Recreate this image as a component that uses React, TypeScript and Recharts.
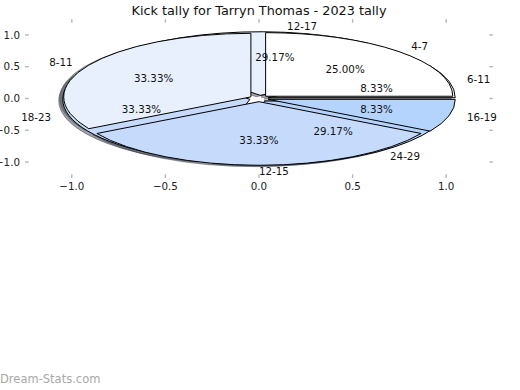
import { ComposedChart, XAxis, YAxis, PieChart, Pie, Cell } from "recharts";

const TITLE = "Kick tally for Tarryn Thomas - 2023 tally";
const WATERMARK = "Dream-Stats.com";

// first tally (six-year brackets), drawn underneath
const groupsA = ["6-11", "12-17", "18-23", "24-29"];
const kicksA = [2, 7, 8, 7];

// second tally (four-year brackets), drawn on top
const groupsB = ["4-7", "8-11", "12-15", "16-19"];
const kicksB = [6, 8, 8, 2];

const sliceColors = ["#ffffff", "#e8f0fe", "#c6dafc", "#b4d4fd"];
const axisTicks = [-1, -0.5, 0, 0.5, 1];

const dataA = groupsA.map((name, i) => ({ name, value: kicksA[i] }));
const dataB = groupsB.map((name, i) => ({ name, value: kicksB[i] }));
const tickRows = axisTicks.map((t) => ({ t }));

const W = 520;
const H = 390;
// axes are 1px thick (recharts skips 0-size axes), so the plot box is 25..493 x 19..178
const MARGIN = { top: 18, right: 26, bottom: 211, left: 24 };
const PLOT = { left: 25, top: 19, width: W - 25 - 27, height: H - 19 - 212 };
const LIM = 1.25;
const CX = PLOT.left + PLOT.width / 2;
const CY = PLOT.top + PLOT.height / 2;
const RX = PLOT.width / (2 * LIM);
const RY = PLOT.height / (2 * LIM);
const SQUASH = RY / RX;

const EXPLODE = 0.05;
const SHADOW = 0.0214;
const FONT = "DejaVu Sans";
const TICK_GREY = "#b8b8b8";
const RAD = Math.PI / 180;

function fmtTick(v: number) {
  return (v < 0 ? "\u2212" : "") + Math.abs(v).toFixed(1);
}

function ellipseWedge(cx: number, cy: number, rx: number, ry: number, a0: number, a1: number) {
  const x0 = cx + rx * Math.cos(a0 * RAD);
  const y0 = cy - ry * Math.sin(a0 * RAD);
  const x1 = cx + rx * Math.cos(a1 * RAD);
  const y1 = cy - ry * Math.sin(a1 * RAD);
  const large = Math.abs(a1 - a0) > 180 ? 1 : 0;
  return `M${cx},${cy}L${x0},${y0}A${rx},${ry} 0 ${large} 0 ${x1},${y1}Z`;
}

function shade(hex: string) {
  const n = parseInt(hex.slice(1), 16);
  const r = Math.round(((n >> 16) & 255) * 0.3);
  const g = Math.round(((n >> 8) & 255) * 0.3);
  const b = Math.round((n & 255) * 0.3);
  return `rgb(${r},${g},${b})`;
}

function wedgeGeometry(props: any) {
  const { cx, cy, outerRadius, startAngle, endAngle, midAngle } = props;
  const rx = outerRadius;
  const ry = outerRadius * SQUASH;
  const mid = midAngle ?? (startAngle + endAngle) / 2;
  const ox = cx + EXPLODE * rx * Math.cos(mid * RAD);
  const oy = cy - EXPLODE * ry * Math.sin(mid * RAD);
  return { ox, oy, rx, ry, startAngle, endAngle };
}

function wedgeShape(props: any) {
  const g = wedgeGeometry(props);
  return (
    <path
      d={ellipseWedge(g.ox, g.oy, g.rx, g.ry, g.startAngle, g.endAngle)}
      fill={props.fill}
      stroke="#000"
      strokeWidth={1}
      strokeLinejoin="round"
    />
  );
}

function shadowShape(props: any) {
  const g = wedgeGeometry(props);
  const c = shade(props.fill || "#ffffff");
  return (
    <path
      d={ellipseWedge(g.ox - SHADOW * g.rx, g.oy + SHADOW * g.ry, g.rx, g.ry, g.startAngle, g.endAngle)}
      fill={c}
      fillOpacity={0.5}
      stroke={c}
      strokeOpacity={0.5}
      strokeWidth={1}
    />
  );
}

function emptyShape() {
  return <g />;
}

function renderLabels(props: any) {
  const { cx, cy, outerRadius, midAngle, percent, name } = props;
  const rx = outerRadius;
  const ry = outerRadius * SQUASH;
  const c = Math.cos(midAngle * RAD);
  const s = Math.sin(midAngle * RAD);
  const nameX = cx + rx * (EXPLODE + 1.1) * c;
  const nameY = cy - ry * (EXPLODE + 1.1) * s;
  const pctX = cx + rx * (EXPLODE + 0.6) * c;
  const pctY = cy - ry * (EXPLODE + 0.6) * s;
  return (
    <g>
      <text
        x={nameX}
        y={nameY}
        dy="0.36em"
        textAnchor={c >= -1e-6 ? "start" : "end"}
        fontFamily={FONT}
        fontSize={10.3}
        fill="#111"
      >
        {name}
      </text>
      <text x={pctX} y={pctY} dy="0.36em" textAnchor="middle" fontFamily={FONT} fontSize={10.3} fill="#111">
        {(percent * 100).toFixed(2)}%
      </text>
    </g>
  );
}

function BottomTick({ x, y, payload }: any) {
  return (
    <g>
      <line x1={x} x2={x} y1={y} y2={y - 3.7} stroke={TICK_GREY} strokeWidth={1.4} />
      <text x={x} y={y + 12} textAnchor="middle" fontFamily={FONT} fontSize={10.3} fill="#222">
        {fmtTick(payload.value)}
      </text>
    </g>
  );
}

function TopTick({ x, y }: any) {
  return <line x1={x} x2={x} y1={y} y2={y + 3.7} stroke={TICK_GREY} strokeWidth={1.4} />;
}

function LeftTick({ x, y, payload }: any) {
  return (
    <g>
      <line x1={x} x2={x + 3.7} y1={y} y2={y} stroke={TICK_GREY} strokeWidth={1.4} />
      <text x={x - 5} y={y} dy="0.36em" textAnchor="end" fontFamily={FONT} fontSize={10.3} fill="#222">
        {fmtTick(payload.value)}
      </text>
    </g>
  );
}

function RightTick({ x, y }: any) {
  return <line x1={x} x2={x - 3.7} y1={y} y2={y} stroke={TICK_GREY} strokeWidth={1.4} />;
}

const pieCommon = {
  dataKey: "value",
  nameKey: "name",
  cx: CX,
  cy: CY,
  innerRadius: 0,
  outerRadius: RX,
  startAngle: 0,
  endAngle: 360,
  labelLine: false,
  isAnimationActive: false,
  stroke: "none",
};

const axisCommon = {
  type: "number" as const,
  dataKey: "t",
  domain: [-LIM, LIM],
  ticks: axisTicks,
  interval: 0 as const,
  allowDataOverflow: true,
  axisLine: false,
  tickLine: false,
  tickSize: 0,
  tickMargin: 0,
};

function cells(prefix: string, n: number) {
  return Array.from({ length: n }, (_, i) => <Cell key={`${prefix}${i}`} fill={sliceColors[i % sliceColors.length]} />);
}

export default function App() {
  return (
    <div style={{ position: "absolute", left: 0, top: 0, width: W, height: H, background: "#fff" }}>
      <div style={{ position: "absolute", left: 0, top: 0 }}>
        <ComposedChart width={W} height={H} margin={MARGIN} data={tickRows}>
          <XAxis {...axisCommon} xAxisId="bottom" orientation="bottom" height={1} tick={<BottomTick />} />
          <XAxis {...axisCommon} xAxisId="top" orientation="top" height={1} tick={<TopTick />} />
          <YAxis {...axisCommon} yAxisId="left" orientation="left" width={1} tick={<LeftTick />} />
          <YAxis {...axisCommon} yAxisId="right" orientation="right" width={1} tick={<RightTick />} />
        </ComposedChart>
      </div>
      <div style={{ position: "absolute", left: 0, top: 0 }}>
        <PieChart width={W} height={H} margin={{ top: 0, right: 0, bottom: 0, left: 0 }}>
          <Pie {...pieCommon} data={dataA} shape={shadowShape}>
            {cells("sa", dataA.length)}
          </Pie>
          <Pie {...pieCommon} data={dataB} shape={shadowShape}>
            {cells("sb", dataB.length)}
          </Pie>
          <Pie {...pieCommon} data={dataA} shape={wedgeShape}>
            {cells("wa", dataA.length)}
          </Pie>
          <Pie {...pieCommon} data={dataB} shape={wedgeShape}>
            {cells("wb", dataB.length)}
          </Pie>
          <Pie {...pieCommon} data={dataA} shape={emptyShape} fill="none" label={renderLabels} />
          <Pie {...pieCommon} data={dataB} shape={emptyShape} fill="none" label={renderLabels} />
        </PieChart>
      </div>
      <svg width={W} height={H} style={{ position: "absolute", left: 0, top: 0, pointerEvents: "none" }}>
        <text x={CX} y={15} textAnchor="middle" fontFamily={FONT} fontSize={12.8} fill="#111">
          {TITLE}
        </text>
        <text x={0} y={383} fontFamily={FONT} fontSize={11.5} fill="#a8a8a8">
          {WATERMARK}
        </text>
      </svg>
    </div>
  );
}
